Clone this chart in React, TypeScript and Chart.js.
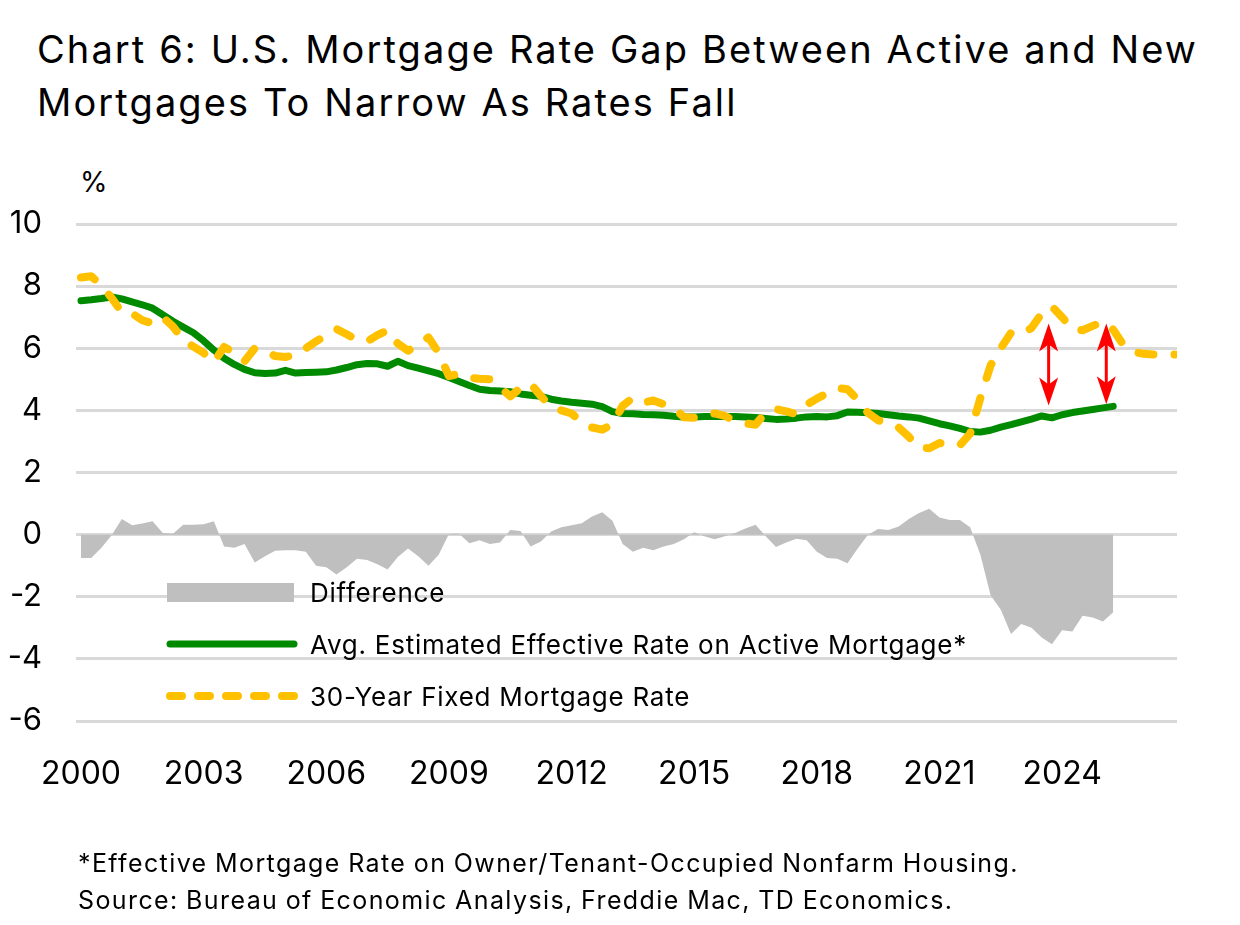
import React, { useEffect, useRef } from "react";
import { Chart, registerables } from "chart.js";

Chart.register(...registerables);

const FONT = "Inter, 'Noto Sans', sans-serif";

const TITLE_LINES = [
  "Chart 6: U.S. Mortgage Rate Gap Between Active and New",
  "Mortgages To Narrow As Rates Fall",
];
const NOTES = [
  "*Effective Mortgage Rate on Owner/Tenant-Occupied Nonfarm Housing.",
  "Source: Bureau of Economic Analysis, Freddie Mac, TD Economics.",
];
const Y_UNIT = "%";

// Quarterly categories, 2000Q1 .. 2026Q4 (as decimal years)
const START_YEAR = 2000;
const QUARTER_COUNT = 108;
const QUARTERS = Array.from({ length: QUARTER_COUNT }, (_, i) => START_YEAR + i / 4);
const YEAR_TICKS = [2000, 2003, 2006, 2009, 2012, 2015, 2018, 2021, 2024];
const Y_MIN = -6;
const Y_MAX = 10;
const Y_STEP = 2;

const SERIES_NAMES = [
  "Difference",
  "Avg. Estimated Effective Rate on Active Mortgage*",
  "30-Year Fixed Mortgage Rate",
];

// Avg. estimated effective rate on active mortgages (%), 2000Q1 .. 2025Q2
const ACTIVE_RATE = [
  7.53, 7.56, 7.6, 7.65, 7.59, 7.49, 7.4, 7.29,
  7.08, 6.87, 6.68, 6.5, 6.24, 5.94, 5.68, 5.48,
  5.32, 5.21, 5.19, 5.2, 5.29, 5.2, 5.22, 5.23,
  5.24, 5.3, 5.38, 5.47, 5.51, 5.5, 5.42, 5.58,
  5.44, 5.36, 5.27, 5.18, 5.06, 4.93, 4.8, 4.68,
  4.64, 4.62, 4.6, 4.53, 4.49, 4.45, 4.36, 4.3,
  4.26, 4.23, 4.2, 4.12, 3.96, 3.9, 3.89, 3.87,
  3.86, 3.84, 3.81, 3.79, 3.79, 3.8, 3.8, 3.8,
  3.8, 3.79, 3.77, 3.74, 3.71, 3.72, 3.75, 3.79,
  3.8, 3.79, 3.83, 3.95, 3.94, 3.92, 3.9, 3.86,
  3.82, 3.79, 3.75, 3.66, 3.57, 3.5, 3.42, 3.32,
  3.3, 3.36, 3.46, 3.54, 3.63, 3.72, 3.82, 3.76,
  3.86, 3.93, 3.98, 4.03, 4.08, 4.13,
];

// 30-year fixed mortgage rate (%), 2000Q1 .. 2026Q4 (incl. forecast)
const FIXED_RATE = [
  8.28, 8.32, 8.02, 7.62, 7.15, 7.12, 6.9, 6.8,
  7.0, 6.7, 6.27, 6.05, 5.85, 5.55, 6.04, 5.86,
  5.58, 6.0, 5.9, 5.75, 5.72, 5.78, 6.0, 6.22,
  6.42, 6.62, 6.45, 6.27, 6.22, 6.42, 6.58, 6.15,
  5.92, 6.12, 6.35, 5.85, 5.1, 5.18, 5.05, 5.02,
  5.0, 4.75, 4.45, 4.72, 4.86, 4.46, 4.12, 4.0,
  3.9, 3.62, 3.45, 3.38, 3.55, 4.15, 4.4, 4.25,
  4.32, 4.2, 4.08, 3.78, 3.76, 3.86, 3.9, 3.82,
  3.66, 3.58, 3.54, 3.93, 4.04, 3.97, 3.88, 4.18,
  4.38, 4.55, 4.72, 4.68, 4.34, 3.92, 3.68, 3.6,
  3.45, 3.15, 2.8, 2.78, 2.95, 2.9, 2.88, 3.25,
  4.4, 5.45, 6.0, 6.5, 6.45, 6.65, 7.12, 7.35,
  7.0, 6.62, 6.58, 6.72, 6.85, 6.6, 6.1, 5.88,
  5.82, 5.8, 5.8, 5.8,
];

// Difference (active minus new), 2000Q1 .. 2025Q2
const DIFFERENCE = [
  -0.75, -0.75, -0.42, -0.02, 0.5, 0.3, 0.36, 0.43,
  0.05, 0.03, 0.32, 0.32, 0.33, 0.43, -0.38, -0.42,
  -0.3, -0.9, -0.7, -0.52, -0.5, -0.5, -0.55, -1.0,
  -1.05, -1.28, -1.05, -0.78, -0.82, -0.95, -1.12, -0.72,
  -0.45, -0.7, -1.0, -0.65, 0.02, 0.03, -0.28, -0.18,
  -0.3, -0.25, 0.15, 0.12, -0.38, -0.22, 0.1, 0.24,
  0.3, 0.37, 0.58, 0.72, 0.45, -0.3, -0.55, -0.42,
  -0.5, -0.38, -0.3, -0.15, 0.08, -0.05, -0.15, -0.05,
  0.05, 0.2, 0.32, -0.05, -0.4, -0.25, -0.13, -0.18,
  -0.55, -0.75, -0.78, -0.92, -0.45, 0.0, 0.18, 0.15,
  0.26, 0.5, 0.7, 0.83, 0.55, 0.47, 0.47, 0.24,
  -0.65, -1.95, -2.42, -3.2, -2.88, -3.0, -3.31, -3.53,
  -3.08, -3.12, -2.61, -2.67, -2.8, -2.5,
];

// Annotation arrows (gap between new and active rates)
const ARROW_X = [2023.67, 2025.08];
const ARROW_TOP = [6.8, 6.8];
const ARROW_BOTTOM = [4.16, 4.2];

const GREEN = "#008a00";
const YELLOW = "#ffc000";
const GRAY = "#bfbfbf";
const GRID = "#d9d9d9";
const RED = "#ff0000";

const arrowPlugin = {
  id: "gapArrows",
  afterDatasetsDraw(chart: any) {
    const { ctx, scales } = chart;
    const xs = scales.x;
    const ys = scales.y;
    const L = 28;
    const W = 9.5;
    const N = 7;
    ctx.save();
    ctx.fillStyle = RED;
    ctx.strokeStyle = RED;
    ctx.lineWidth = 3;
    const head = (px: number, tip: number, dir: number) => {
      ctx.beginPath();
      ctx.moveTo(px, tip);
      ctx.lineTo(px + W, tip + dir * L);
      ctx.lineTo(px, tip + dir * (L - N));
      ctx.lineTo(px - W, tip + dir * L);
      ctx.closePath();
      ctx.fill();
    };
    ARROW_X.forEach((v, k) => {
      const px = xs.getPixelForValue(v);
      const top = ys.getPixelForValue(ARROW_TOP[k]);
      const bot = ys.getPixelForValue(ARROW_BOTTOM[k]);
      ctx.beginPath();
      ctx.moveTo(px, top + L - N - 1);
      ctx.lineTo(px, bot - L + N + 1);
      ctx.stroke();
      head(px, top, 1);
      head(px, bot, -1);
    });
    ctx.restore();
  },
};

const legendPlugin = {
  id: "customLegend",
  afterDraw(chart: any) {
    const { ctx } = chart;
    ctx.save();
    // Difference swatch
    ctx.fillStyle = GRAY;
    ctx.fillRect(167, 583, 127, 19);
    // Active rate line
    ctx.strokeStyle = GREEN;
    ctx.lineWidth = 7;
    ctx.lineCap = "round";
    ctx.beginPath();
    ctx.moveTo(170, 644);
    ctx.lineTo(294, 644);
    ctx.stroke();
    // Fixed rate dashed line
    ctx.strokeStyle = YELLOW;
    ctx.lineWidth = 8;
    ctx.setLineDash([12, 16]);
    ctx.beginPath();
    ctx.moveTo(170, 696);
    ctx.lineTo(294, 696);
    ctx.stroke();
    ctx.setLineDash([]);
    ctx.fillStyle = "#000";
    ctx.font = `26px ${FONT}`;
    (ctx as any).letterSpacing = "0.75px";
    ctx.textBaseline = "alphabetic";
    ctx.textAlign = "left";
    ctx.fillText(SERIES_NAMES[0], 310, 602);
    ctx.fillText(SERIES_NAMES[1], 310, 654);
    ctx.fillText(SERIES_NAMES[2], 310, 706);
    ctx.restore();
  },
};

export default function App() {
  const canvasRef = useRef<HTMLCanvasElement | null>(null);

  useEffect(() => {
    const canvas = canvasRef.current;
    if (!canvas) return;
    const chart = new Chart(canvas, {
      type: "line",
      data: {
        labels: QUARTERS,
        datasets: [
          {
            label: SERIES_NAMES[2],
            data: FIXED_RATE,
            borderColor: YELLOW,
            borderWidth: 8,
            borderDash: [15, 21],
            borderCapStyle: "round",
            borderJoinStyle: "round",
            pointRadius: 0,
            fill: false,
            tension: 0,
            order: 0,
          },
          {
            label: SERIES_NAMES[1],
            data: ACTIVE_RATE,
            borderColor: GREEN,
            borderWidth: 7,
            borderCapStyle: "round",
            borderJoinStyle: "round",
            pointRadius: 0,
            fill: false,
            tension: 0,
            order: 1,
          },
          {
            label: SERIES_NAMES[0],
            data: DIFFERENCE,
            borderWidth: 0,
            borderColor: GRAY,
            backgroundColor: GRAY,
            pointRadius: 0,
            fill: "origin",
            tension: 0,
            order: 2,
          },
        ] as any,
      },
      options: {
        animation: false,
        responsive: false,
        maintainAspectRatio: false,
        events: [],
        layout: { padding: { top: 224, right: 63, bottom: 114, left: 0 } },
        plugins: {
          legend: { display: false },
          tooltip: { enabled: false },
          title: { display: false },
        },
        scales: {
          x: {
            type: "linear",
            min: START_YEAR - 5 / 40.88,
            max: START_YEAR + 1096 / 40.88,
            grid: { display: false },
            border: { display: false },
            afterBuildTicks: (scale: any) => {
              scale.ticks = YEAR_TICKS.map((v) => ({ value: v }));
            },
            afterFit: (scale: any) => {
              scale.height = 90;
            },
            ticks: {
              autoSkip: false,
              maxRotation: 0,
              padding: 26,
              color: "#000",
              font: { family: FONT, size: 32 },
              callback: (v: any) => String(v),
            },
          },
          y: {
            min: Y_MIN,
            max: Y_MAX,
            grid: { color: GRID, lineWidth: 3, drawTicks: false },
            border: { display: false },
            afterFit: (scale: any) => {
              scale.width = 76;
            },
            ticks: {
              stepSize: Y_STEP,
              padding: 34,
              color: "#000",
              font: { family: FONT, size: 31 },
              callback: (v: any) => String(v),
            },
          },
        },
      } as any,
      plugins: [arrowPlugin, legendPlugin],
    });
    return () => chart.destroy();
  }, []);

  return (
    <div
      style={{
        position: "absolute",
        left: 0,
        top: 0,
        width: 1240,
        height: 925,
        background: "#fff",
        fontFamily: FONT,
        color: "#000",
      }}
    >
      <div
        style={{
          position: "absolute",
          left: 37,
          top: 23,
          fontSize: 38,
          lineHeight: "53px",
          letterSpacing: "2.1px",
          whiteSpace: "nowrap",
        }}
      >
        {TITLE_LINES.map((t, i) => (
          <div key={i}>{t}</div>
        ))}
      </div>
      <div
        style={{
          position: "absolute",
          left: 80,
          top: 168,
          fontSize: 28,
          lineHeight: 1,
        }}
      >
        {Y_UNIT}
      </div>
      <canvas
        ref={canvasRef}
        width={1240}
        height={925}
        style={{ position: "absolute", left: 0, top: 0, width: 1240, height: 925 }}
      />
      <div
        style={{
          position: "absolute",
          left: 78,
          top: 845,
          fontSize: 25,
          lineHeight: "37px",
          letterSpacing: "1.4px",
          wordSpacing: "-1px",
          whiteSpace: "nowrap",
        }}
      >
        {NOTES.map((t, i) => (
          <div key={i}>{t}</div>
        ))}
      </div>
    </div>
  );
}
